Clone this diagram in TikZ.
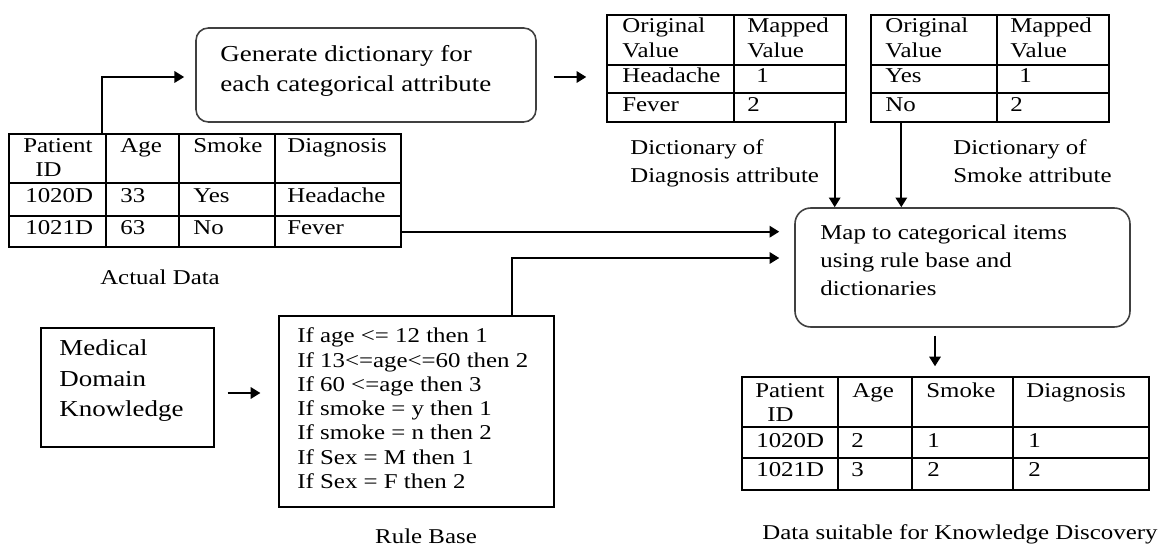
\documentclass[tikz,border=0pt]{standalone}
\usepackage{fontspec}
\setmainfont{Liberation Serif}[FakeStretch=1.18]
\usetikzlibrary{arrows.meta,calc,fit}

\begin{document}
\begin{tikzpicture}[x=0.02cm, y=-0.02cm,
        txt/.style={anchor=base west, inner sep=0pt, font=\fontsize{12}{14}\selectfont},
        bigtxt/.style={txt, font=\fontsize{13}{15}\selectfont},
        rbox/.style={draw=black!75, line width=0.9pt, rounded corners=7pt, inner sep=0pt},
        sqbox/.style={draw, line width=0.8pt, inner sep=0pt},
        tbl/.style={line width=0.8pt},
        arr/.style={line width=1.1pt, -{Triangle[length=5.5pt,width=6.5pt]}}]
    \useasboundingbox (0,0) rectangle (1164,547);

    % actual data
    \node[sqbox, fit={(9,134) (401,247)}] (actual) {};
    \foreach \y in {183,216} \draw[tbl] (9,\y) -- (401,\y);
    \foreach \x in {106,179,275} \draw[tbl] (\x,134) -- (\x,247);
    \foreach \x/\t [count=\i] in {23/Patient,120/Age,193/Smoke,287/Diagnosis}
        \node[txt] (ah\i) at (\x,153) {\t};
    \node[txt] (ahid) at (35,177) {ID};
    \foreach \x/\a/\b [count=\i] in {25/1020D/1021D,120/33/63,193/Yes/No,287/Headache/Fever}{%
        \node[txt] (ar\i) at (\x,203) {\a};
        \node[txt] (as\i) at (\x,235) {\b};
    }
    \node[txt, anchor=base] (actlbl) at (160,285) {Actual Data};

    % generate box
    \node[rbox, fit={(196,28) (536,122)}] (gen) {};
    \node[bigtxt] (gen1) at (220,62) {Generate dictionary for};
    \node[bigtxt] (gen2) at (220,92) {each categorical attribute};

    % dictionaries
    \node[sqbox, fit={(607,15) (846,122)}] (diag) {};
    \draw[tbl] (607,65) -- (846,65) (607,93) -- (846,93) (734,15) -- (734,122);
    \node[sqbox, fit={(871,15) (1109,122)}] (smoke) {};
    \draw[tbl] (871,65) -- (1109,65) (871,93) -- (1109,93) (997,15) -- (997,122);
    \foreach \x/\m/\a/\b/\c [count=\i] in {622/747/Headache/Fever/diag,885/1010/Yes/No/smk}{%
        \node[txt] (\c o1) at (\x,33) {Original};
        \node[txt] (\c o2) at (\x,58) {Value};
        \node[txt] (\c m1) at (\m,33) {Mapped};
        \node[txt] (\c m2) at (\m,58) {Value};
        \node[txt] (\c r1) at (\x,83) {\a};
        \node[txt] (\c r2) at (\x,112) {\b};
        \node[txt] (\c v1) at (\m+9,83) {1};
        \node[txt] (\c v2) at (\m,112) {2};
    }
    \node[txt] (diaglbl1) at (630,155) {Dictionary of};
    \node[txt] (diaglbl2) at (630,183) {Diagnosis attribute};
    \node[txt] (smklbl1) at (953,155) {Dictionary of};
    \node[txt] (smklbl2) at (953,183) {Smoke attribute};

    % map box
    \node[rbox, rounded corners=9pt, fit={(795,208) (1130,327)}] (map) {};
    \foreach \t [count=\i] in {Map to categorical items,using rule base and,dictionaries}
        \node[txt] (map\i) at (820,{240+28*(\i-1)}) {\t};

    % medical knowledge and rules
    \node[sqbox, fit={(41,328) (214,447)}] (med) {};
    \foreach \t [count=\i] in {Medical,Domain,Knowledge}
        \node[bigtxt] (med\i) at (59,{356+30.5*(\i-1)}) {\t};
    \node[sqbox, fit={(279,316) (554,507)}] (rule) {};
    \foreach \t [count=\i] in {If age <= 12 then 1,If 13<=age<=60 then 2,If 60 <=age then 3,
            If smoke = y then 1,If smoke = n then 2,If Sex = M then 1,If Sex = F then 2}
        \node[txt] (rule\i) at (297,{343+24.2*(\i-1)}) {\t};
    \node[txt, anchor=base] (rulelbl) at (426,543) {Rule Base};

    % output data
    \node[sqbox, fit={(742,377) (1149,490)}] (out) {};
    \foreach \y in {427,458} \draw[tbl] (742,\y) -- (1149,\y);
    \foreach \x in {838,912,1013} \draw[tbl] (\x,377) -- (\x,490);
    \foreach \x/\t [count=\i] in {755/Patient,852/Age,926/Smoke,1026/Diagnosis}
        \node[txt] (oh\i) at (\x,398) {\t};
    \node[txt] (ohid) at (767,421) {ID};
    \foreach \x/\a/\b [count=\i] in {756/1020D/1021D,851/2/3,927/1/2,1028/1/2}{%
        \node[txt] (or\i) at (\x,447) {\a};
        \node[txt] (os\i) at (\x,477) {\b};
    }
    \node[txt, anchor=base] (outlbl) at (960,540) {Data suitable for Knowledge Discovery};

    % connectors
    \draw[arr, shorten >=6.3pt] ($(actual.north west)+(94,0)$) |- ($(gen.west)+(0,2)$);
    \draw[arr, shorten <=9.7pt, shorten >=11.4pt] ($(gen.east)+(0,2)$) coordinate (g1) -- (g1 -| diag.west);
    \draw[arr] ($(diag.south east)+(-12,0)$) coordinate (d1) -- (d1 |- map.north);
    \draw[arr] ($(smoke.south west)+(31,0)$) coordinate (d2) -- (d2 |- map.north);
    \draw[arr, shorten >=8.5pt] ($(actual.south east)+(0,-16)$) coordinate (f1) -- (f1 -| map.west);
    \draw[arr, shorten >=8.5pt] ($(rule.north west)+(234,0)$) |- ($(map.west)+(0,-9.5)$);
    \draw[arr, shorten <=7.4pt, shorten >=10.2pt] ($(med.east)+(0,5.5)$) coordinate (k1) -- (k1 -| rule.west);
    \draw[arr, shorten <=4.5pt, shorten >=5.7pt] ($(map.south)+(-27.5,0)$) coordinate (m1) -- (m1 |- out.north);
\end{tikzpicture}
\end{document}
